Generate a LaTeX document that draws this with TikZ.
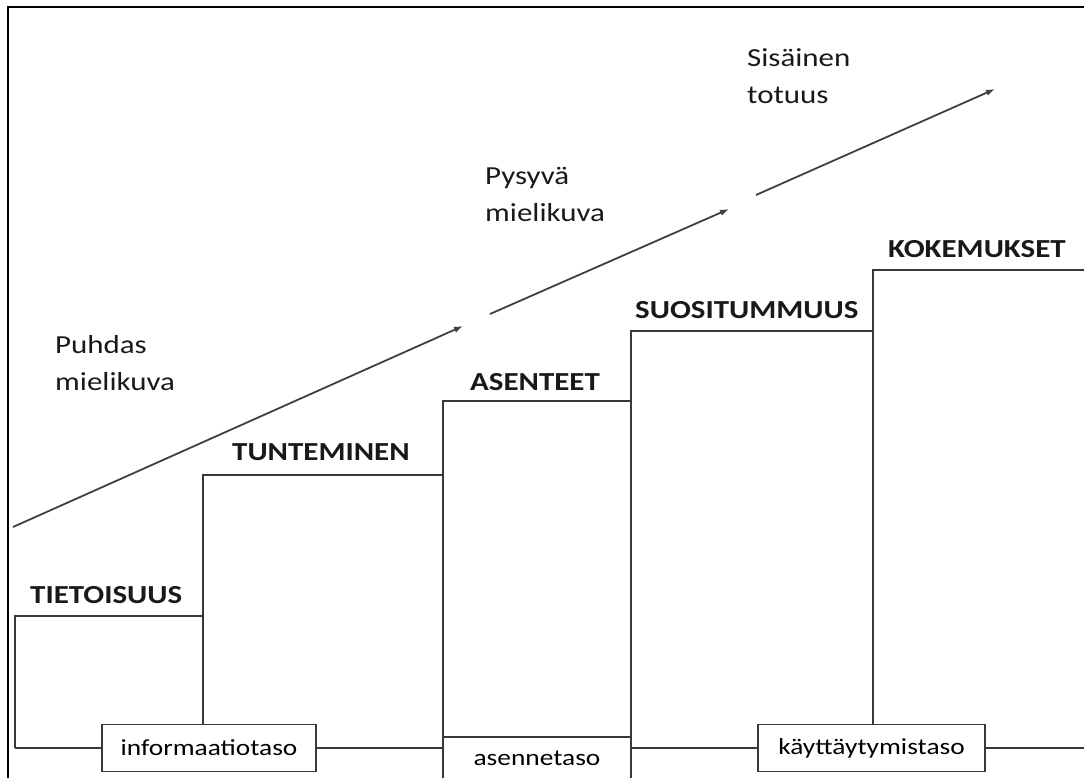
\documentclass[tikz,border=0pt]{standalone}
\usepackage{fontspec}
\setmainfont[FakeStretch=1.19]{Carlito}
\usetikzlibrary{arrows.meta}
\begin{document}
\begin{tikzpicture}[x=1pt,y=-1pt,
  ln/.style={line width=1.6pt, draw=black!78},
  arr/.style={line width=1.8pt, draw=black!75, -{Latex[length=9pt,width=6.5pt]}},
  big/.style={font=\fontsize{26}{30}\selectfont\bfseries, text=black!90, inner sep=0pt, anchor=base west},
  txt/.style={font=\fontsize{26}{37}\selectfont, text=black!90, inner sep=0pt, align=left, anchor=base west},
  lvl/.style={draw=black!78, line width=1.6pt, fill=white, font=\fontsize{23}{27}\selectfont, inner sep=0pt, minimum height=47pt}]
\useasboundingbox (0,0) rectangle (1084,778);
% frame
\draw[line width=1.6pt, black] (8,778) -- (8,7) -- (1084,7);
% corners of the staircase
\coordinate (s0) at (15,748);
\coordinate (s1) at (15,616);
\coordinate (s2) at (203,616);
\coordinate (s3) at (203,475);
\coordinate (s4) at (443,475);
\coordinate (s5) at (443,401);
\coordinate (s6) at (631,401);
\coordinate (s7) at (631,331);
\coordinate (s8) at (873,331);
\coordinate (s9) at (873,270);
\coordinate (s10) at (1084,270);
\coordinate (e4) at (443,748);
\coordinate (e6) at (631,748);
\coordinate (e10) at (1084,748);
\coordinate (b4) at (443,778);
\coordinate (b6) at (631,778);
% level boxes
\node[lvl, minimum width=214pt] (info) at (209,748) {informaatiotaso};
\node[lvl, minimum width=227pt] (kay) at (871.5,748) {käyttäytymistaso};
\node[lvl, minimum width=188pt, minimum height=44pt, anchor=north] (ase) at (537,736) {asennetaso};
% staircase
\draw[ln] (s0) -- (s1) -- (s2) -- (s3) -- (s4) -- (s5) -- (s6) -- (s7) -- (s8) -- (s9) -- (s10);
\draw[ln] (s2) -- (s2 |- info.north);
\draw[ln] (s4) -- (b4);
\draw[ln] (s6) -- (b6);
\draw[ln] (s8) -- (s8 |- kay.north);
% baseline
\draw[ln] (s0) -- (info.west);
\draw[ln] (info.east) -- (e4);
\draw[ln] (e6) -- (kay.west);
\draw[ln] (kay.east) -- (e10);
% step labels
\node[big] (tie) at (30,603) {TIETOISUUS};
\node[big] (tun) at (232,460) {TUNTEMINEN};
\node[big] (asn) at (470,390) {ASENTEET};
\node[big] (suo) at (635,318) {SUOSITUMMUUS};
\node[big] (kok) at (888,258) {KOKEMUKSET};
% image labels (anchor on the baseline of the last line)
\node[txt] (puh) at (55,390) {Puhdas\\mielikuva};
\node[txt] (pys) at (485,222) {Pysyvä\\mielikuva};
\node[txt] (sis) at (747,104) {Sisäinen\\totuus};
% arrows
\coordinate (a1) at (13,527);
\coordinate (b1) at (463,326);
\coordinate (a2) at (490,314);
\coordinate (b2) at (729,209);
\coordinate (a3) at (756,195);
\coordinate (b3) at (995,89);
\draw[arr] (a1) -- (b1);
\draw[arr] (a2) -- (b2);
\draw[arr] (a3) -- (b3);
\end{tikzpicture}
\end{document}
